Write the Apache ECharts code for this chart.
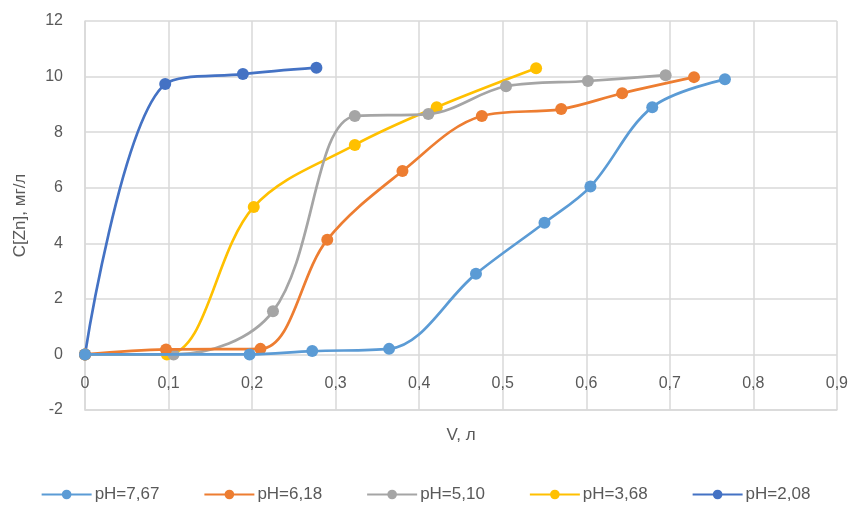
<!DOCTYPE html>
<html><head><meta charset="utf-8">
<script src="https://cdn.jsdelivr.net/npm/echarts@6/dist/echarts.min.js"></script>
<style>html,body{margin:0;padding:0;background:#fff}#c{width:851px;height:509px}</style>
</head><body><div id="c"></div>
<script>
const seriesNames = ['pH=7,67','pH=6,18','pH=5,10','pH=3,68','pH=2,08'];
const colors = ['#5B9BD5','#ED7D31','#A5A5A5','#FFC000','#4472C4'];
const v767 = [0, 0.197, 0.272, 0.364, 0.468, 0.55, 0.605, 0.679, 0.766];
const c767 = [0, 0, 0.12, 0.2, 2.9, 4.74, 6.04, 8.9, 9.9];
const v618 = [0, 0.097, 0.21, 0.29, 0.38, 0.475, 0.57, 0.643, 0.729];
const c618 = [0, 0.18, 0.2, 4.13, 6.6, 8.58, 8.83, 9.4, 9.98];
const v510 = [0, 0.106, 0.225, 0.323, 0.411, 0.504, 0.602, 0.695];
const c510 = [0, 0, 1.55, 8.58, 8.65, 9.65, 9.84, 10.05];
const v368 = [0, 0.098, 0.202, 0.323, 0.421, 0.54];
const c368 = [0, 0, 5.31, 7.54, 8.9, 10.3];
const v208 = [0, 0.096, 0.189, 0.277];
const c208 = [0, 9.73, 10.09, 10.32];
const xs = [v767, v618, v510, v368, v208];
const ys = [c767, c618, c510, c368, c208];
const font = "'Liberation Sans', Arial, sans-serif";

const chart = echarts.init(document.getElementById('c'));
chart.setOption({
  animation: false,
  grid: {left: 85, right: 14, top: 21, bottom: 99},
  xAxis: {
    type: 'value', min: 0, max: 0.9, interval: 0.1,
    axisLine: {show: true, onZero: false, lineStyle: {color: '#D9D9D9', width: 1.5}},
    axisTick: {show: false},
    splitLine: {show: true, lineStyle: {color: '#D9D9D9', width: 1.5}},
    axisLabel: {color: '#595959', fontSize: 16, fontFamily: font, margin: -34,
      formatter: v => String(Math.round(v*10)/10).replace('.', ',')}
  },
  yAxis: {
    type: 'value', min: -2, max: 12, interval: 2,
    name: 'C[Zn], мг/л', nameLocation: 'middle', nameGap: 56, nameRotate: 90,
    nameTextStyle: {color: '#595959', fontSize: 17, fontFamily: font},
    axisLine: {show: true, onZero: false, lineStyle: {color: '#D9D9D9', width: 1.5}},
    axisTick: {show: false},
    splitLine: {show: true, lineStyle: {color: '#D9D9D9', width: 1.5}},
    axisLabel: {color: '#595959', fontSize: 16, fontFamily: font, margin: 22}
  },
  graphic: [{type: 'text', x: 461, y: 435,
    style: {text: 'V, л', fill: '#595959', fontSize: 17, fontFamily: font, align: 'center', verticalAlign: 'middle'}}],
  legend: {
    top: 481, left: 'center', itemWidth: 50, itemHeight: 12, itemGap: 44,
    textStyle: {color: '#595959', fontSize: 17, fontFamily: font, padding: [0, 0, 0, -2]},
    data: seriesNames
  },
  series: seriesNames.map((n, i) => ({
    name: n, type: 'line', smooth: 0.35,
    data: xs[i].map((x, j) => [x, ys[i][j]]),
    symbol: 'circle', symbolSize: 12,
    lineStyle: {color: colors[i], width: 2.7},
    itemStyle: {color: colors[i]},
    z: 10 - i
  }))
});
</script></body></html>
